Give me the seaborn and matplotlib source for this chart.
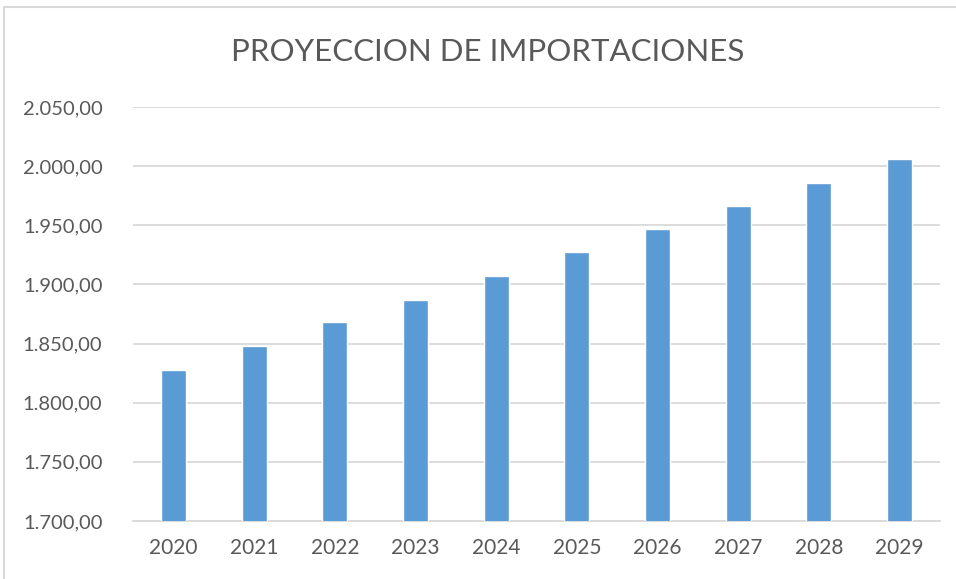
import matplotlib
matplotlib.use("Agg")
import matplotlib.pyplot as plt
import seaborn as sns
import pandas as pd
from matplotlib.ticker import FuncFormatter, MultipleLocator
from matplotlib.patches import Rectangle

years = ["2020", "2021", "2022", "2023", "2024", "2025", "2026", "2027", "2028", "2029"]
values = [1828, 1848, 1868, 1887, 1907, 1927, 1947, 1966, 1986, 2006]
title = "PROYECCION DE IMPORTACIONES"

sns.set_theme(style="white")
plt.rcParams['font.family'] = ['Lato', 'DejaVu Sans']

df = pd.DataFrame({"year": years, "value": values})

fig = plt.figure(figsize=(9.56, 5.79), dpi=100)
ax = fig.add_axes([133/956, 1 - 521/579, (940-133)/956, (521-107)/579])

sns.barplot(data=df, x="year", y="value", color="#5B9BD5", saturation=1,
            width=0.31, ax=ax, zorder=3)

ax.set_ylim(1700, 2050)
ax.set_xlim(-0.5, 9.5)
ax.yaxis.set_major_locator(MultipleLocator(50))
def fmt(v, pos):
    s = f"{v:,.2f}"
    return s.replace(",", "X").replace(".", ",").replace("X", ".")
ax.yaxis.set_major_formatter(FuncFormatter(fmt))
ax.grid(axis="y", color="#D9D9D9", linewidth=1.3, zorder=0)
ax.set_axisbelow(True)
for s in ["top", "right", "left"]:
    ax.spines[s].set_visible(False)
ax.spines["bottom"].set_color("#D9D9D9")
ax.spines["bottom"].set_linewidth(1.3)
ax.set_xlabel("")
ax.set_ylabel("")
ax.tick_params(axis="both", length=0, labelcolor="#595959")
ax.tick_params(axis="y", pad=22, labelsize=14.5)
ax.tick_params(axis="x", pad=12, labelsize=15)

fig.text(488/956, 1 - 52/579, title, ha="center", va="center",
         fontsize=22.5, color="#595959", fontweight="normal")

fig.patches.append(Rectangle((4/956, -0.1), 1.2, 1.1 - 7/579, transform=fig.transFigure,
                             fill=False, edgecolor="#D9D9D9", linewidth=1.5))

fig.savefig("out.png", dpi=100)
